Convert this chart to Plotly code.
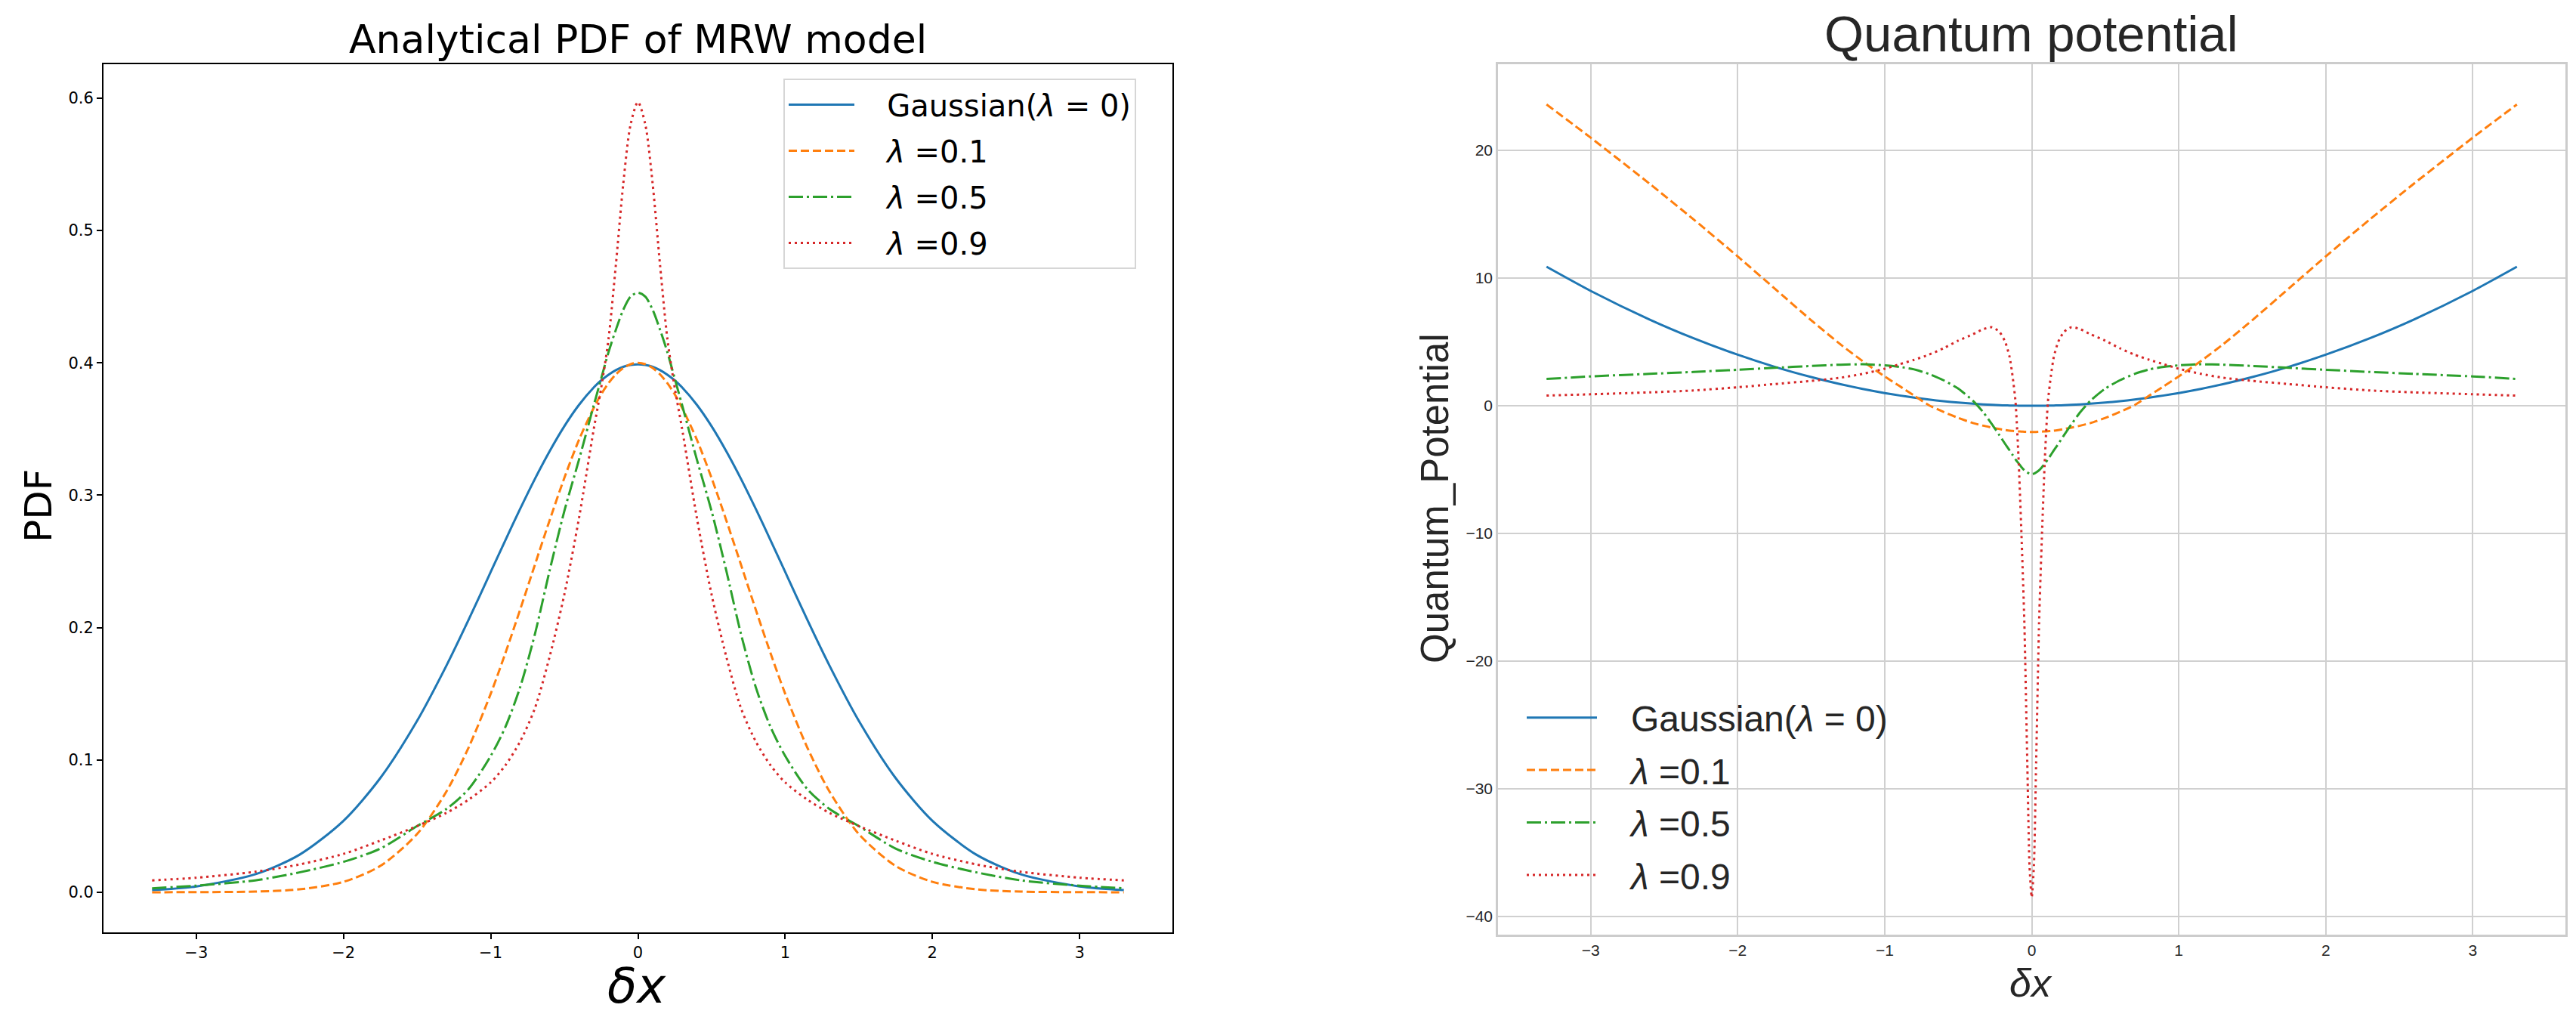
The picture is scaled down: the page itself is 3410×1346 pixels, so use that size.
import plotly.graph_objects as go

# --- left panel: analytical PDF of the MRW model ---
x_pdf = [-3.3, -3.0, -2.6, -2.3, -2.0, -1.75, -1.5, -1.3, -1.15, -1.0, -0.9, -0.8,
         -0.7, -0.6, -0.5, -0.4, -0.3, -0.25, -0.2, -0.15, -0.1, -0.05, 0.0,
         0.05, 0.1, 0.15, 0.2, 0.25, 0.3, 0.4, 0.5, 0.6, 0.7, 0.8, 0.9, 1.0,
         1.15, 1.3, 1.5, 1.75, 2.0, 2.3, 2.6, 3.0, 3.3]
pdf_gauss = [0.0017, 0.0044, 0.0136, 0.0283, 0.0540, 0.0863, 0.1295, 0.1714, 0.2059, 0.2420, 0.2661, 0.2897,
             0.3123, 0.3332, 0.3521, 0.3683, 0.3814, 0.3867, 0.3910, 0.3945, 0.3970, 0.3984, 0.3989,
             0.3984, 0.3970, 0.3945, 0.3910, 0.3867, 0.3814, 0.3683, 0.3521, 0.3332, 0.3123, 0.2897, 0.2661, 0.2420,
             0.2059, 0.1714, 0.1295, 0.0863, 0.0540, 0.0283, 0.0136, 0.0044, 0.0017]
pdf_l01 = [0.0000, 0.0001, 0.0005, 0.0022, 0.0079, 0.0199, 0.0440, 0.0763, 0.1094, 0.1500, 0.1808, 0.2136,
           0.2474, 0.2810, 0.3130, 0.3420, 0.3660, 0.3762, 0.3846, 0.3913, 0.3961, 0.3990, 0.4000,
           0.3990, 0.3961, 0.3913, 0.3846, 0.3762, 0.3660, 0.3420, 0.3130, 0.2810, 0.2474, 0.2136, 0.1808, 0.1500,
           0.1094, 0.0763, 0.0440, 0.0199, 0.0079, 0.0022, 0.0005, 0.0001, 0.0000]
pdf_l05 = [0.003, 0.005, 0.009, 0.015, 0.023, 0.033, 0.050, 0.063, 0.078, 0.103, 0.125, 0.155,
           0.195, 0.243, 0.288, 0.327, 0.368, 0.388, 0.408, 0.425, 0.440, 0.450, 0.453,
           0.450, 0.440, 0.425, 0.408, 0.388, 0.368, 0.327, 0.288, 0.243, 0.195, 0.155, 0.125, 0.103,
           0.078, 0.063, 0.050, 0.033, 0.023, 0.015, 0.009, 0.005, 0.003]
pdf_l09 = [0.009, 0.011, 0.0155, 0.021, 0.029, 0.039, 0.050, 0.060, 0.070, 0.083, 0.096, 0.114,
           0.139, 0.178, 0.225, 0.283, 0.350, 0.381, 0.418, 0.474, 0.535, 0.580, 0.597,
           0.580, 0.535, 0.474, 0.418, 0.381, 0.350, 0.283, 0.225, 0.178, 0.139, 0.114, 0.096, 0.083,
           0.070, 0.060, 0.050, 0.039, 0.029, 0.021, 0.0155, 0.011, 0.009]

# --- right panel: quantum potential ---
x_q = [-3.3, -3.0, -2.6, -2.3, -2.0, -1.75, -1.5, -1.3, -1.15, -1.0, -0.9, -0.8, -0.7, -0.6,
       -0.5, -0.4, -0.33, -0.27, -0.22, -0.18, -0.15, -0.13, -0.11, -0.09, -0.07, -0.05, -0.03,
       -0.015, 0.0, 0.015, 0.03, 0.05, 0.07, 0.09, 0.11, 0.13, 0.15, 0.18, 0.22, 0.27, 0.33,
       0.4, 0.5, 0.6, 0.7, 0.8, 0.9, 1.0, 1.15, 1.3, 1.5, 1.75, 2.0, 2.3, 2.6, 3.0, 3.3]
q_gauss = [10.89, 9.0, 6.76, 5.29, 4.0, 3.06, 2.25, 1.69, 1.32, 1.0, 0.81, 0.64, 0.49, 0.36,
           0.25, 0.16, 0.109, 0.073, 0.048, 0.032, 0.023, 0.017, 0.012, 0.008, 0.005, 0.0025, 0.0009,
           0.0002, 0.0, 0.0002, 0.0009, 0.0025, 0.005, 0.008, 0.012, 0.017, 0.023, 0.032, 0.048, 0.073, 0.109,
           0.16, 0.25, 0.36, 0.49, 0.64, 0.81, 1.0, 1.32, 1.69, 2.25, 3.06, 4.0, 5.29, 6.76, 9.0, 10.89]
q_l01 = [23.6, 21.0, 17.4, 14.6, 11.7, 9.2, 6.7, 4.8, 3.5, 2.3, 1.55, 0.8, 0.05, -0.48,
         -0.95, -1.35, -1.56, -1.71, -1.82, -1.9, -1.95, -1.97, -1.99, -2.01, -2.02, -2.04, -2.05,
         -2.05, -2.05, -2.05, -2.05, -2.04, -2.02, -2.01, -1.99, -1.97, -1.95, -1.9, -1.82, -1.71, -1.56,
         -1.35, -0.95, -0.48, 0.05, 0.8, 1.55, 2.3, 3.5, 4.8, 6.7, 9.2, 11.7, 14.6, 17.4, 21.0, 23.6]
q_l05 = [2.1, 2.3, 2.5, 2.65, 2.82, 2.97, 3.12, 3.22, 3.25, 3.17, 3.05, 2.85, 2.5, 2.0,
         1.35, 0.4, -0.5, -1.45, -2.3, -3.0, -3.5, -3.85, -4.2, -4.5, -4.8, -5.05, -5.22,
         -5.32, -5.35, -5.32, -5.22, -5.05, -4.8, -4.5, -4.2, -3.85, -3.5, -3.0, -2.3, -1.45, -0.5,
         0.4, 1.35, 2.0, 2.5, 2.85, 3.05, 3.17, 3.25, 3.22, 3.12, 2.97, 2.82, 2.65, 2.5, 2.3, 2.1]
q_l09 = [0.8, 0.9, 1.05, 1.2, 1.45, 1.7, 1.95, 2.2, 2.5, 2.9, 3.25, 3.6, 4.0, 4.5,
         5.1, 5.6, 6.0, 6.15, 5.8, 5.0, 3.8, 2.3, 0.3, -4.0, -10.0, -17.0, -28.0,
         -36.0, -38.5, -36.0, -28.0, -17.0, -10.0, -4.0, 0.3, 2.3, 3.8, 5.0, 5.8, 6.15, 6.0,
         5.6, 5.1, 4.5, 4.0, 3.6, 3.25, 2.9, 2.5, 2.2, 1.95, 1.7, 1.45, 1.2, 1.05, 0.9, 0.8]

labels = ["Gaussian(<i>λ</i> = 0)", "<i>λ</i> =0.1", "<i>λ</i> =0.5", "<i>λ</i> =0.9"]
colors = ["#1f77b4", "#ff7f0e", "#2ca02c", "#d62728"]
dashes = ["solid", "11px,5px", "19px,5px,3px,5px", "3px,5px"]

W, H = 3410, 1346
pad = "\u00a0\u00a0\u00a0"  # gap between legend sample and text
fig = go.Figure()

for i, ys in enumerate([pdf_gauss, pdf_l01, pdf_l05, pdf_l09]):
    fig.add_trace(go.Scatter(x=x_pdf, y=ys, mode="lines", name=pad + labels[i],
                             line=dict(color=colors[i], width=3, dash=dashes[i], shape="spline", smoothing=0.8),
                             legend="legend", legendgroup="a%d" % i,
                             xaxis="x", yaxis="y"))
for i, ys in enumerate([q_gauss, q_l01, q_l05, q_l09]):
    fig.add_trace(go.Scatter(x=x_q, y=ys, mode="lines", name=pad + labels[i],
                             line=dict(color=colors[i], width=3, dash=dashes[i], shape="spline", smoothing=0.6),
                             legend="legend2", legendgroup="b%d" % i,
                             xaxis="x2", yaxis="y2"))

dj = "DejaVu Sans"
lib = "Liberation Sans"

fig.update_layout(
    width=W, height=H, margin=dict(l=0, r=0, t=0, b=0),
    paper_bgcolor="white", plot_bgcolor="white",
    xaxis=dict(domain=[129 / W, 1544 / W], range=[-3.63, 3.63], dtick=1, tick0=0,
               showgrid=False, zeroline=False, showline=True, mirror=True,
               linecolor="black", linewidth=2, ticks="outside", ticklen=7, tickwidth=2,
               tickcolor="black", tickfont=dict(family=dj, size=21, color="black")),
    yaxis=dict(domain=[1 - 1226 / H, 1 - 77 / H], range=[-0.0303, 0.6256], dtick=0.1, tick0=0,
               tickformat=".1f", showgrid=False, zeroline=False, showline=True, mirror=True,
               linecolor="black", linewidth=2, ticks="outside", ticklen=7, tickwidth=2,
               tickcolor="black", tickfont=dict(family=dj, size=21, color="black")),
    xaxis2=dict(domain=[1975 / W, 3388 / W], range=[-3.63, 3.63], dtick=1, tick0=0,
                showgrid=True, gridcolor="#d0d0d0", gridwidth=2, zeroline=False,
                showline=True, mirror=True, linecolor="#cccccc", linewidth=2.5, ticks="",
                anchor="y2", tickfont=dict(family=lib, size=21, color="#262626")),
    yaxis2=dict(domain=[1 - 1229 / H, 1 - 77 / H], range=[-41.42, 26.75], dtick=10, tick0=0,
                showgrid=True, gridcolor="#d0d0d0", gridwidth=2, zeroline=False,
                showline=True, mirror=True, linecolor="#cccccc", linewidth=2.5, ticks="",
                anchor="x2", tickfont=dict(family=lib, size=21, color="#262626")),
    legend=dict(x=1029 / W, y=1 - 96 / H, xanchor="left", yanchor="top",
                bgcolor="white", bordercolor="#d6d6d6", borderwidth=2,
                font=dict(family=dj, size=40, color="black"),
                itemwidth=87, tracegroupgap=6, traceorder="grouped"),
    legend2=dict(x=2008 / W, y=1 - 904 / H, xanchor="left", yanchor="top",
                 bgcolor="rgba(0,0,0,0)", borderwidth=0,
                 font=dict(family=lib, size=48, color="#262626"),
                 itemwidth=93, tracegroupgap=4, traceorder="grouped"),
    showlegend=True,
)

annots = [
    dict(text="Analytical PDF of MRW model", x=836 / W, y=1 - 44 / H,
         font=dict(family=dj, size=52, color="black")),
    dict(text="<i>δx</i>", x=835 / W, y=1 - 1297 / H, font=dict(family=dj, size=64, color="black")),
    dict(text="PDF", x=43 / W, y=1 - 662 / H, textangle=-90, font=dict(family=dj, size=50, color="black")),
    dict(text="Quantum potential", x=2681 / W, y=1 - 36 / H,
         font=dict(family=lib, size=67, color="#262626")),
    dict(text="<i>δx</i>", x=2680 / W, y=1 - 1293 / H, font=dict(family=lib, size=52, color="#262626")),
    dict(text="Quantum_Potential", x=1891 / W, y=1 - 652 / H, textangle=-90,
         font=dict(family=lib, size=51, color="#262626")),
]
for a in annots:
    fig.add_annotation(xref="paper", yref="paper", showarrow=False,
                       xanchor="center", yanchor="middle", **a)

fig.write_html("out.html")
